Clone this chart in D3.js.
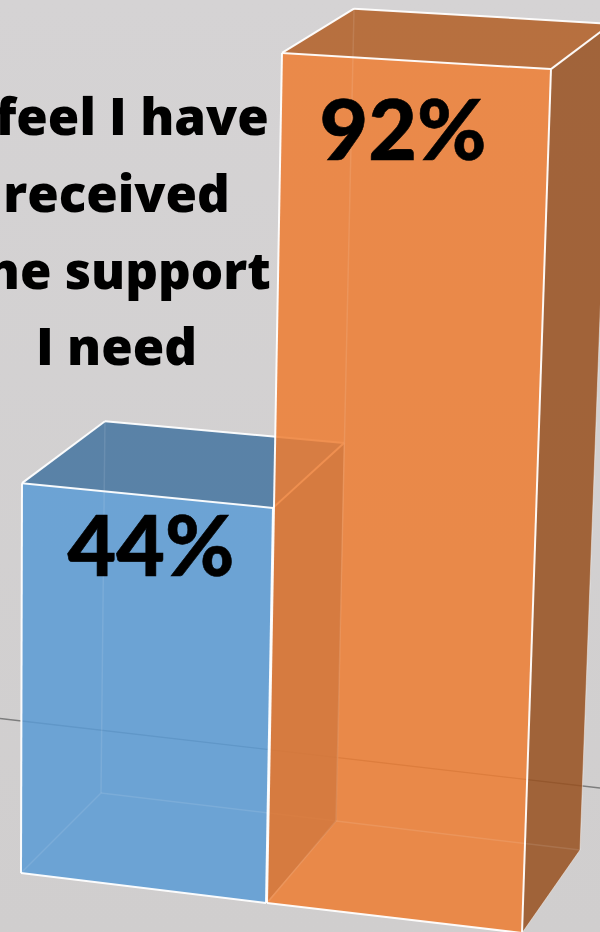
<!DOCTYPE html>
<html>
<head>
<meta charset="utf-8">
<script src="https://cdn.jsdelivr.net/npm/d3@7/dist/d3.min.js"></script>
<style>
html,body{margin:0;padding:0;background:#d2d0d0}
svg{display:block}
text{fill:#000}
.value{font-family:Lato,sans-serif;font-weight:900;stroke:#000;stroke-width:0.6}
.statement{font-family:"Open Sans",sans-serif;font-weight:800}
</style>
</head>
<body>
<svg id="chart" width="600" height="932"></svg>
<script>
// Survey result
const categories = ["Before", "After"];
const values = [44, 92];
const seriesColors = ["#5B9BD5", "#ED7D31"];
const titleLines = ["I feel I have", "received", "the support", "I need"];

const width = 600, height = 932;

// Fraction of a full-height column for a given percentage
const rise = d3.scaleLinear().domain([0, 100]).range([0, 1]);

// Ground footprint of every column and how far each corner climbs at 100%.
// Order: front-left, front-right, back-right, back-left.
const footprints = [
  { ground: [[21,873],[266,903],[337,821],[101,793]],
    climb:  [[2.3,-886],[15.9,-898],[16,-859],[9,-845]],
    labelAt: [151, 576] },
  { ground: [[267,903],[522,933],[580,850],[336,821]],
    climb:  [[16.3,-924],[31.5,-939],[33.7,-898],[19.6,-883]],
    labelAt: [403, 160] }
];

const svg = d3.select("#chart");
const defs = svg.append("defs");
const bg = defs.append("linearGradient").attr("id","wall")
  .attr("x1",0).attr("y1",0).attr("x2",0).attr("y2",1);
bg.append("stop").attr("offset",0).attr("stop-color","#d5d3d4");
bg.append("stop").attr("offset",1).attr("stop-color","#d0cece");
svg.append("rect").attr("width",width).attr("height",height).attr("fill","url(#wall)");

// Floor line running behind the columns
const lineGen = d3.line();
svg.append("path")
  .attr("d", lineGen([[0,718.5],[600,788]]))
  .attr("fill","none").attr("stroke","#7d7d7d").attr("stroke-width",1.3);

const shade = (c, k) => {
  const r = d3.rgb(c);
  return d3.rgb(r.r*k, r.g*k, r.b*k).formatHex();
};
const closed = pts => lineGen(pts) + "Z";

const faceOpacity = 0.85;
const columns = svg.selectAll("g.column")
  .data(values.map((v,i)=>({v,i,name:categories[i],color:seriesColors[i],...footprints[i]})))
  .join("g").attr("class","column");

columns.each(function(d){
  const g = d3.select(this);
  const t = rise(d.v);
  const bottom = d.ground;
  const top = d.ground.map((p,k)=>[p[0]+d.climb[k][0]*t, p[1]+d.climb[k][1]*t]);
  const [fl,fr,br,bl] = bottom;
  const [tfl,tfr,tbr,tbl] = top;

  // Solid faces
  g.append("path").attr("d",closed([fr,br,tbr,tfr]))
    .attr("fill",shade(d.color,0.64)).attr("fill-opacity",faceOpacity);
  g.append("path").attr("d",closed([tfl,tfr,tbr,tbl]))
    .attr("fill",shade(d.color,0.75)).attr("fill-opacity",faceOpacity);
  g.append("path").attr("d",closed([fl,fr,tfr,tfl]))
    .attr("fill",d.color).attr("fill-opacity",faceOpacity);

  // Hidden edges show faintly through the translucent faces
  [[bl,tbl],[bl,br],[fl,bl]].forEach(e=>{
    g.append("path").attr("d",lineGen(e)).attr("fill","none")
      .attr("stroke","#fff").attr("stroke-opacity",0.1).attr("stroke-width",1.5);
  });

  // Bright outer edges
  [[fl,fr],[fr,tfr],[tfr,tfl],[tfl,fl],[tfl,tbl],[tbl,tbr],[tbr,tfr]].forEach(e=>{
    g.append("path").attr("d",lineGen(e)).attr("fill","none")
      .attr("stroke","#fff").attr("stroke-opacity",0.95).attr("stroke-width",2);
  });
  [[fr,br],[br,tbr]].forEach(e=>{
    g.append("path").attr("d",lineGen(e)).attr("fill","none")
      .attr("stroke","#fff").attr("stroke-opacity",0.45).attr("stroke-width",1);
  });
});

// Value labels
columns.append("text").attr("class","value")
  .attr("x",d=>d.labelAt[0]).attr("y",d=>d.labelAt[1])
  .attr("text-anchor","middle").attr("font-size",84)
  .text(d=>d.v+"%");

// Statement text beside the columns
svg.append("g").selectAll("text").data(titleLines).join("text")
  .attr("class","statement")
  .attr("x",116.5).attr("y",(d,i)=>135+i*76.8)
  .attr("text-anchor","middle").attr("font-size",51)
  .text(d=>d);
</script>
</body>
</html>
